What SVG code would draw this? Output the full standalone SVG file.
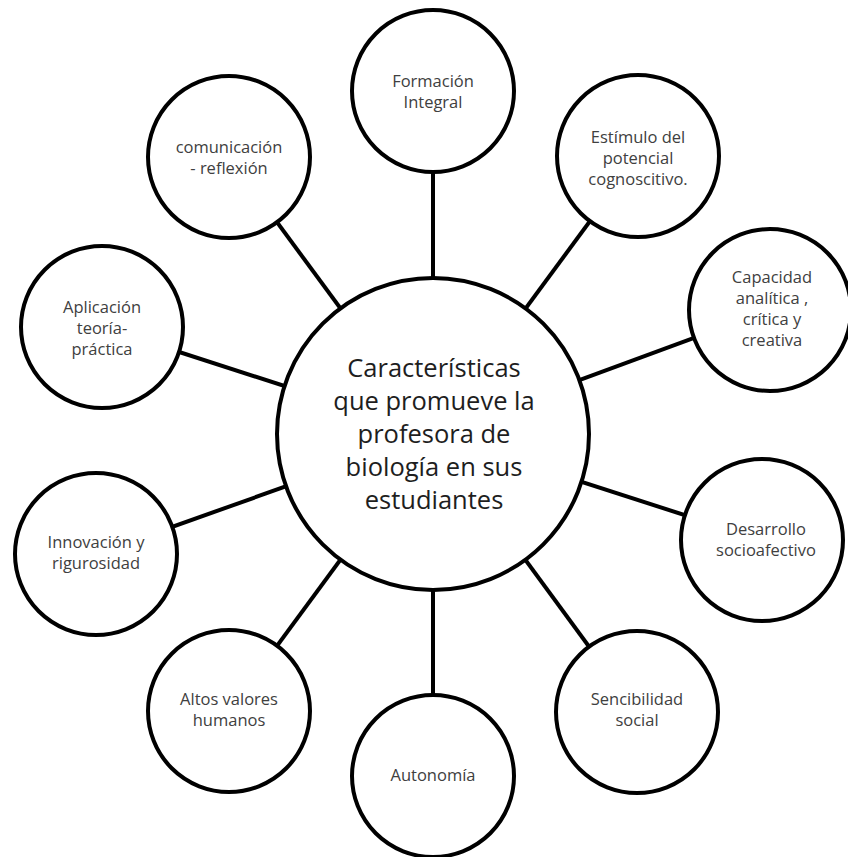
<svg xmlns="http://www.w3.org/2000/svg" width="848" height="857" viewBox="0 0 848 857">
<style>
.bg{fill:#ffffff}
.node{fill:#ffffff;stroke:#000000;stroke-width:4}
.conn line{stroke:#000000;stroke-width:4}
.lbl{font-family:"Open Sans","Liberation Sans",sans-serif;font-size:16.5px;fill:#404040;text-anchor:middle}
.main{font-family:"Open Sans","Liberation Sans",sans-serif;font-size:25.5px;fill:#1e1e1e;text-anchor:middle}
</style>
<rect class="bg" x="0" y="0" width="848" height="857"/>
<g id="connectors" class="conn">
<line x1="433" y1="434" x2="433" y2="91"/>
<line x1="433" y1="434" x2="638" y2="156"/>
<line x1="433" y1="434" x2="770" y2="310"/>
<line x1="433" y1="434" x2="762" y2="540"/>
<line x1="433" y1="434" x2="637" y2="712"/>
<line x1="433" y1="434" x2="433" y2="776"/>
<line x1="433" y1="434" x2="229" y2="711"/>
<line x1="433" y1="434" x2="96" y2="554"/>
<line x1="433" y1="434" x2="102" y2="327"/>
<line x1="433" y1="434" x2="229" y2="157"/>
</g>
<g id="n-formacion">
<circle class="node" cx="433" cy="91" r="81"/>
<text class="lbl" x="433" y="87">Formación</text>
<text class="lbl" x="433" y="108">Integral</text>
</g>
<g id="n-estimulo">
<circle class="node" cx="638" cy="156" r="81"/>
<text class="lbl" x="638" y="143">Estímulo del</text>
<text class="lbl" x="638" y="164">potencial</text>
<text class="lbl" x="638" y="185">cognoscitivo.</text>
</g>
<g id="n-capacidad">
<circle class="node" cx="770" cy="310" r="81"/>
<text class="lbl" x="772" y="283">Capacidad</text>
<text class="lbl" x="772" y="304">analítica ,</text>
<text class="lbl" x="772" y="325">crítica y</text>
<text class="lbl" x="772" y="346">creativa</text>
</g>
<g id="n-desarrollo">
<circle class="node" cx="762" cy="540" r="81"/>
<text class="lbl" x="766" y="535">Desarrollo</text>
<text class="lbl" x="766" y="556">socioafectivo</text>
</g>
<g id="n-sensibilidad">
<circle class="node" cx="637" cy="712" r="81"/>
<text class="lbl" x="637" y="705">Sencibilidad</text>
<text class="lbl" x="637" y="726">social</text>
</g>
<g id="n-autonomia">
<circle class="node" cx="433" cy="776" r="81"/>
<text class="lbl" x="433" y="781">Autonomía</text>
</g>
<g id="n-altos">
<circle class="node" cx="229" cy="711" r="81"/>
<text class="lbl" x="229" y="705">Altos valores</text>
<text class="lbl" x="229" y="726">humanos</text>
</g>
<g id="n-innovacion">
<circle class="node" cx="96" cy="554" r="81"/>
<text class="lbl" x="96" y="548">Innovación y</text>
<text class="lbl" x="96" y="569">rigurosidad</text>
</g>
<g id="n-aplicacion">
<circle class="node" cx="102" cy="327" r="81"/>
<text class="lbl" x="102" y="313">Aplicación</text>
<text class="lbl" x="102" y="334">teoría-</text>
<text class="lbl" x="102" y="355">práctica</text>
</g>
<g id="n-comunicacion">
<circle class="node" cx="229" cy="157" r="81"/>
<text class="lbl" x="229" y="153">comunicación</text>
<text class="lbl" x="229" y="174">- reflexión</text>
</g>
<g id="n-center">
<circle class="node" cx="433" cy="434" r="156"/>
<text class="main" x="434" y="377">Características</text>
<text class="main" x="434" y="410">que promueve la</text>
<text class="main" x="434" y="443">profesora de</text>
<text class="main" x="434" y="476">biología en sus</text>
<text class="main" x="434" y="509">estudiantes</text>
</g>
</svg>
